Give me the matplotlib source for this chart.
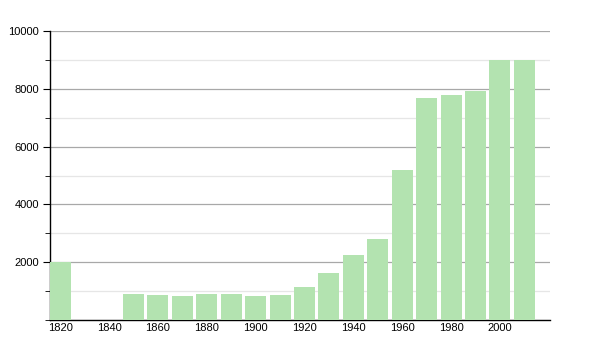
import matplotlib
matplotlib.use("Agg")
import matplotlib.pyplot as plt
from matplotlib.ticker import MultipleLocator

years = [1820, 1850, 1860, 1870, 1880, 1890, 1900, 1910, 1920, 1930,
         1940, 1950, 1960, 1970, 1980, 1990, 2000, 2010]
population = [2000, 900, 865, 830, 900, 900, 830, 865, 1140, 1615,
              2250, 2800, 5190, 7680, 7785, 7920, 9000, 9000]
xtick_labels = [1820, 1840, 1860, 1880, 1900, 1920, 1940, 1960, 1980, 2000]
ytick_labels = [2000, 4000, 6000, 8000, 10000]

plt.rcParams['font.family'] = ['Liberation Sans', 'DejaVu Sans']

fig = plt.figure(figsize=(6, 3.5), dpi=100)
ax = fig.add_axes([50/600, 30/350, 500/600, 289/350])

ax.bar(years, population, width=8.6, color='#b3e3b0', zorder=3)

ax.set_xlim(1815.8, 2020.5)
ax.set_ylim(0, 10000)

ax.set_yticks(ytick_labels)
ax.set_yticklabels([str(v) for v in ytick_labels])
ax.yaxis.set_minor_locator(MultipleLocator(1000))
ax.set_xticks(xtick_labels)
ax.set_xticklabels([str(v) for v in xtick_labels])

ax.grid(axis='y', which='major', color='#a8a8a8', linewidth=0.9, zorder=0)
ax.grid(axis='y', which='minor', color='#e6e6e6', linewidth=0.9, zorder=0)

for s in ['top', 'right']:
    ax.spines[s].set_visible(False)
ax.spines['left'].set_color('black')
ax.spines['bottom'].set_color('black')
ax.spines['left'].set_linewidth(1.0)
ax.spines['bottom'].set_linewidth(1.0)

ax.tick_params(axis='x', length=0, labelsize=8, pad=2)
ax.tick_params(axis='y', which='major', length=5, labelsize=8, pad=3)
ax.tick_params(axis='y', which='minor', length=3.5)

fig.savefig('out.png', dpi=100)
